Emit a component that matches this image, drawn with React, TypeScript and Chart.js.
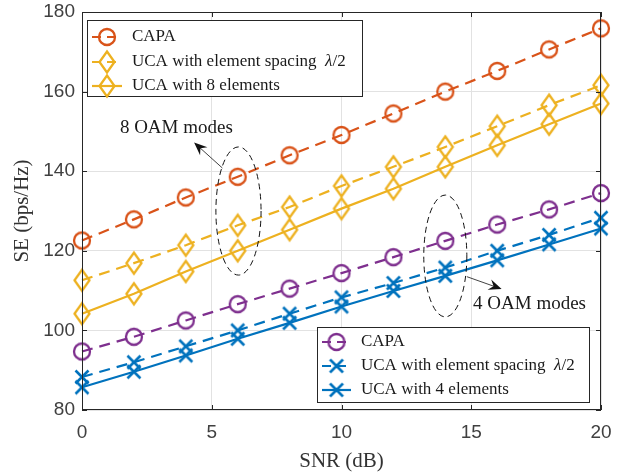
import React, { useEffect, useRef } from "react";
import { Chart, registerables } from "chart.js";

Chart.register(...registerables);

// ---------- data ----------
const snr = [0, 2, 4, 6, 8, 10, 12, 14, 16, 18, 20];
const capa8 = [122.6, 127.9, 133.4, 138.6, 144.0, 149.1, 154.5, 160.0, 165.2, 170.6, 175.9];
const uca8Spacing = [112.6, 116.9, 121.4, 126.4, 131.0, 136.3, 141.1, 146.1, 151.3, 156.6, 161.6];
const uca8 = [104.2, 109.2, 114.8, 120.0, 125.3, 130.6, 135.6, 141.1, 146.5, 151.8, 157.0];
const capa4 = [94.7, 98.4, 102.5, 106.6, 110.5, 114.4, 118.4, 122.5, 126.6, 130.4, 134.5];
const uca4Spacing = [88.3, 92.0, 96.0, 100.0, 104.2, 108.3, 111.9, 115.8, 120.0, 124.0, 128.3];
const uca4 = [85.7, 89.6, 93.7, 97.9, 101.9, 106.0, 109.9, 113.7, 117.6, 121.6, 125.6];

const xTicks = [0, 5, 10, 15, 20];
const yTicks = [80, 100, 120, 140, 160, 180];

const legend8Labels = ["CAPA", "UCA with element spacing", "UCA with 8 elements"];
const legend4Labels = ["CAPA", "UCA with element spacing", "UCA with 4 elements"];
const spacingSuffix = "\u03BB/2";

const xTitle = "SNR (dB)";
const yTitle = "SE (bps/Hz)";
const note8 = "8 OAM modes";
const note4 = "4 OAM modes";

// ---------- style ----------
const RED = "#D95319";
const YELLOW = "#EDB120";
const PURPLE = "#7E2F8E";
const BLUE = "#0072BD";
const DASH = [11, 7];
const SERIF = "Liberation Serif";
const SANS_CSS = '"Liberation Sans", Arial, Helvetica, sans-serif';

type MarkerKind = "circle" | "diamond" | "x";

function makeMarker(kind: MarkerKind, color: string): HTMLCanvasElement {
  const c = document.createElement("canvas");
  c.width = 26;
  c.height = 26;
  const g = c.getContext("2d")!;
  g.strokeStyle = color;
  g.lineWidth = 2.3;
  g.lineJoin = "miter";
  const m = 13;
  g.beginPath();
  if (kind === "circle") {
    g.arc(m, m, 8, 0, Math.PI * 2);
  } else if (kind === "diamond") {
    g.moveTo(m, m - 10.5);
    g.lineTo(m + 7.5, m);
    g.lineTo(m, m + 10.5);
    g.lineTo(m - 7.5, m);
    g.closePath();
  } else {
    g.lineWidth = 2.6;
    g.moveTo(m - 6.5, m - 6.5);
    g.lineTo(m + 6.5, m + 6.5);
    g.moveTo(m + 6.5, m - 6.5);
    g.lineTo(m - 6.5, m + 6.5);
  }
  g.stroke();
  return c;
}

// annotations in data units
const ellipses = [
  { cx: 6.03, cy: 130.0, rx: 0.87, ry: 16.1 },
  { cx: 14.0, cy: 118.7, rx: 0.83, ry: 15.3 },
];
const arrows = [
  { x0: 5.41, y0: 140.8, x1: 4.32, y1: 147.2 },
  { x0: 14.83, y0: 113.5, x1: 16.17, y1: 110.4 },
];
const notes = [
  { text: note8, x: 1.46, y: 150.9 },
  { text: note4, x: 15.07, y: 106.6 },
];

export default function App() {
  const ref = useRef<HTMLCanvasElement | null>(null);

  useEffect(() => {
    if (!ref.current) return;
    document.body.style.margin = "0";

    const series = [
      { data: capa8, color: RED, dash: DASH, marker: "circle" as MarkerKind },
      { data: uca8Spacing, color: YELLOW, dash: DASH, marker: "diamond" as MarkerKind },
      { data: uca8, color: YELLOW, dash: [] as number[], marker: "diamond" as MarkerKind },
      { data: capa4, color: PURPLE, dash: DASH, marker: "circle" as MarkerKind },
      { data: uca4Spacing, color: BLUE, dash: DASH, marker: "x" as MarkerKind },
      { data: uca4, color: BLUE, dash: [] as number[], marker: "x" as MarkerKind },
    ].map((s) => ({ ...s, img: makeMarker(s.marker, s.color) }));

    const legendEntries = [
      { box: { l: 87, t: 20, r: 363, b: 97 }, rows: [37, 62, 86], lineX: [92, 122], textX: 132, items: [0, 1, 2], labels: legend8Labels },
      { box: { l: 317, t: 327, r: 590, b: 403 }, rows: [342, 366, 390], lineX: [322, 351], textX: 361, items: [3, 4, 5], labels: legend4Labels },
    ];

    const overlay = {
      id: "overlay",
      afterDraw(chart: any) {
        const { ctx, chartArea: a } = chart;
        const xs = chart.scales.x;
        const ys = chart.scales.y;
        ctx.save();

        // tick labels (sans-serif, like MATLAB's Helvetica)
        ctx.fillStyle = "#404040";
        ctx.font = `19px ${SANS_CSS}`;
        ctx.textBaseline = "middle";
        ctx.textAlign = "center";
        for (const t of xTicks) {
          ctx.fillText(String(t), xs.getPixelForValue(t), a.bottom + 23);
        }
        ctx.textAlign = "right";
        for (const t of yTicks) {
          ctx.fillText(String(t), a.left - 7, ys.getPixelForValue(t));
        }
        ctx.textAlign = "left";

        // ellipses
        ctx.strokeStyle = "#111111";
        ctx.lineWidth = 1;
        ctx.setLineDash([6, 4]);
        for (const e of ellipses) {
          const cx = xs.getPixelForValue(e.cx);
          const cy = ys.getPixelForValue(e.cy);
          const rx = Math.abs(xs.getPixelForValue(e.cx + e.rx) - cx);
          const ry = Math.abs(ys.getPixelForValue(e.cy + e.ry) - cy);
          ctx.beginPath();
          ctx.ellipse(cx, cy, rx, ry, 0, 0, Math.PI * 2);
          ctx.stroke();
        }
        ctx.setLineDash([]);

        // arrows
        for (const ar of arrows) {
          const sx = xs.getPixelForValue(ar.x0);
          const sy = ys.getPixelForValue(ar.y0);
          const tx = xs.getPixelForValue(ar.x1);
          const ty = ys.getPixelForValue(ar.y1);
          const len = Math.hypot(tx - sx, ty - sy);
          const dx = (tx - sx) / len;
          const dy = (ty - sy) / len;
          const nx = -dy;
          const ny = dx;
          ctx.strokeStyle = "#111111";
          ctx.lineWidth = 0.8;
          ctx.beginPath();
          ctx.moveTo(sx, sy);
          ctx.lineTo(tx - dx * 6, ty - dy * 6);
          ctx.stroke();
          ctx.fillStyle = "#111111";
          ctx.beginPath();
          ctx.moveTo(tx, ty);
          ctx.lineTo(tx - dx * 13 + nx * 5.5, ty - dy * 13 + ny * 5.5);
          ctx.lineTo(tx - dx * 8.5, ty - dy * 8.5);
          ctx.lineTo(tx - dx * 13 - nx * 5.5, ty - dy * 13 - ny * 5.5);
          ctx.closePath();
          ctx.fill();
        }

        // notes
        ctx.fillStyle = "#1a1a1a";
        ctx.font = `19px "${SERIF}"`;
        ctx.textBaseline = "middle";
        ctx.textAlign = "left";
        for (const n of notes) {
          ctx.fillText(n.text, xs.getPixelForValue(n.x), ys.getPixelForValue(n.y));
        }

        // frame + inner ticks
        ctx.strokeStyle = "#262626";
        ctx.lineWidth = 1;
        ctx.strokeRect(a.left + 0.5, a.top + 0.5, a.right - a.left - 1, a.bottom - a.top - 1);
        ctx.beginPath();
        for (const t of xTicks) {
          const px = Math.round(xs.getPixelForValue(t)) + 0.5;
          ctx.moveTo(px, a.bottom);
          ctx.lineTo(px, a.bottom - 5);
          ctx.moveTo(px, a.top);
          ctx.lineTo(px, a.top + 5);
        }
        for (const t of yTicks) {
          const py = Math.round(ys.getPixelForValue(t)) + 0.5;
          ctx.moveTo(a.left, py);
          ctx.lineTo(a.left + 5, py);
          ctx.moveTo(a.right, py);
          ctx.lineTo(a.right - 5, py);
        }
        ctx.stroke();

        // legends
        for (const L of legendEntries) {
          const { l, t, r, b } = L.box;
          ctx.fillStyle = "#ffffff";
          ctx.fillRect(l, t, r - l, b - t);
          ctx.strokeStyle = "#262626";
          ctx.lineWidth = 1;
          ctx.strokeRect(l + 0.5, t + 0.5, r - l - 1, b - t - 1);
          L.items.forEach((si, k) => {
            const s = series[si];
            const y = L.rows[k];
            ctx.strokeStyle = s.color;
            ctx.lineWidth = 2.2;
            ctx.setLineDash(s.dash.length ? [9, 6] : []);
            ctx.beginPath();
            ctx.moveTo(L.lineX[0], y);
            ctx.lineTo(L.lineX[1], y);
            ctx.stroke();
            ctx.setLineDash([]);
            const mx = (L.lineX[0] + L.lineX[1]) / 2;
            ctx.drawImage(s.img, mx - s.img.width / 2, y - s.img.height / 2);
            ctx.fillStyle = "#1a1a1a";
            ctx.textBaseline = "middle";
            ctx.font = `17px "${SERIF}"`;
            const label = L.labels[k];
            ctx.fillText(label, L.textX, y);
            if (k === 1) {
              let x = L.textX + ctx.measureText(label + "  ").width;
              ctx.font = `italic 17px "${SERIF}"`;
              ctx.fillText(spacingSuffix[0], x, y);
              x += ctx.measureText(spacingSuffix[0]).width;
              ctx.font = `17px "${SERIF}"`;
              ctx.fillText(spacingSuffix.slice(1), x, y);
            }
          });
        }
        ctx.restore();
      },
    };

    const chart = new Chart(ref.current, {
      type: "line",
      data: {
        datasets: series.map((s, i) => ({
          data: snr.map((x, j) => ({ x, y: s.data[j] })),
          borderColor: s.color,
          borderWidth: 2.2,
          borderDash: s.dash,
          pointStyle: s.img as any,
          pointRadius: 9,
          pointHoverRadius: 9,
          pointBackgroundColor: "rgba(0,0,0,0)",
          pointBorderColor: s.color,
          fill: false,
          tension: 0,
          clip: false as any,
          order: 5 - i,
        })),
      },
      options: {
        animation: false,
        responsive: false,
        devicePixelRatio: 1,
        events: [],
        layout: { padding: { top: 12, right: 20, left: 0, bottom: 0 } },
        plugins: { legend: { display: false }, tooltip: { enabled: false } },
        scales: {
          x: {
            type: "linear",
            min: 0,
            max: 20,
            afterFit: (s: any) => {
              s.height = 64;
            },
            afterBuildTicks: (s: any) => {
              s.ticks = xTicks.map((v) => ({ value: v }));
            },
            ticks: { display: false },
            grid: { color: "#e2e2e2", drawTicks: false, lineWidth: 1 },
            border: { display: false },
            title: {
              display: true,
              text: xTitle,
              color: "#333333",
              font: { family: SERIF, size: 21 },
              padding: { top: 0, bottom: 0 },
            },
          },
          y: {
            type: "linear",
            min: 80,
            max: 180,
            afterFit: (s: any) => {
              s.width = 82;
            },
            afterBuildTicks: (s: any) => {
              s.ticks = yTicks.map((v) => ({ value: v }));
            },
            ticks: { display: false },
            grid: { color: "#e2e2e2", drawTicks: false, lineWidth: 1 },
            border: { display: false },
            title: {
              display: true,
              text: yTitle,
              color: "#333333",
              font: { family: SERIF, size: 21 },
              padding: { top: 10, bottom: 0 },
            },
          },
        },
      },
      plugins: [overlay],
    });

    return () => chart.destroy();
  }, []);

  return (
    <div style={{ position: "fixed", left: 0, top: 0, width: 621, height: 474, background: "#ffffff" }}>
      <canvas ref={ref} width={621} height={474} />
    </div>
  );
}
